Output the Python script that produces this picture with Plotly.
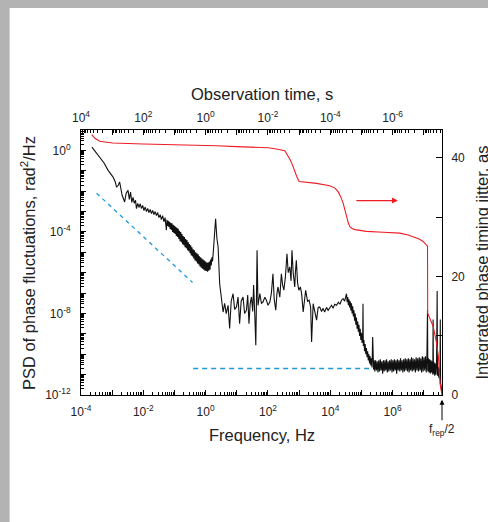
import plotly.graph_objects as go

# ---------------- data (log10 values) ----------------
# PSD of phase fluctuations, pairs of (log10 frequency/Hz, log10 PSD/(rad^2/Hz)), by segment
psd_low = [  # 10^-3.7 .. 10^-1.3 Hz
    (-3.65, 0.16), (-3.52, -0.10), (-3.40, -0.33), (-3.26, -0.62), (-3.13, -0.98), (-3.05, -1.15),
    (-2.97, -1.31), (-2.90, -1.55), (-2.86, -1.80), (-2.80, -1.70), (-2.76, -1.55), (-2.68, -2.20),
    (-2.60, -2.53), (-2.55, -2.10), (-2.49, -1.96), (-2.45, -2.40), (-2.41, -2.05), (-2.37, -2.55),
    (-2.33, -2.30), (-2.29, -2.60), (-2.25, -2.45), (-2.22, -2.86), (-2.18, -2.60), (-2.14, -2.80),
    (-2.10, -2.62), (-2.06, -2.85), (-2.02, -2.70), (-1.98, -2.95), (-1.94, -2.78), (-1.90, -3.00),
    (-1.86, -2.85), (-1.82, -3.05), (-1.78, -2.90), (-1.74, -3.10), (-1.70, -2.95), (-1.66, -3.15),
    (-1.62, -3.00), (-1.58, -3.20), (-1.54, -3.05), (-1.50, -3.30), (-1.46, -3.15), (-1.42, -3.40),
    (-1.38, -3.20), (-1.34, -3.50),
]
psd_band = [  # dense noisy band up to the 2 Hz peak
    (-1.30, -3.30), (-1.28, -3.62), (-1.26, -3.92), (-1.24, -3.40), (-1.22, -3.70), (-1.20, -3.45),
    (-1.18, -3.75), (-1.16, -3.50), (-1.14, -3.85), (-1.12, -3.55), (-1.10, -3.90), (-1.08, -3.58),
    (-1.06, -4.00), (-1.04, -3.65), (-1.02, -4.05), (-1.00, -3.70), (-0.98, -4.10), (-0.96, -3.75),
    (-0.94, -4.20), (-0.92, -3.80), (-0.90, -4.25), (-0.88, -3.85), (-0.86, -4.35), (-0.84, -3.95),
    (-0.82, -4.45), (-0.80, -4.00), (-0.78, -4.50), (-0.76, -4.10), (-0.74, -4.60), (-0.72, -4.20),
    (-0.70, -4.65), (-0.68, -4.25), (-0.66, -4.75), (-0.64, -4.35), (-0.62, -4.80), (-0.60, -4.40),
    (-0.58, -4.90), (-0.56, -4.50), (-0.54, -4.95), (-0.52, -4.60), (-0.50, -5.05), (-0.48, -4.65),
    (-0.46, -5.15), (-0.44, -4.75), (-0.42, -5.20), (-0.40, -4.85), (-0.38, -5.30), (-0.36, -4.90),
    (-0.34, -5.40), (-0.32, -5.00), (-0.30, -5.45), (-0.28, -5.05), (-0.26, -5.55), (-0.24, -5.10),
    (-0.22, -5.60), (-0.20, -5.20), (-0.18, -5.70), (-0.16, -5.25), (-0.14, -5.75), (-0.12, -5.30),
    (-0.10, -5.80), (-0.08, -5.35), (-0.06, -5.85), (-0.04, -5.40), (-0.02, -5.90), (0.00, -5.45),
    (0.02, -5.92), (0.04, -5.50), (0.06, -5.95), (0.08, -5.50), (0.10, -5.90), (0.12, -5.45),
    (0.14, -5.85), (0.16, -5.35), (0.18, -5.65), (0.20, -5.25), (0.22, -5.45), (0.24, -5.10),
    (0.28, -4.40), (0.32, -3.35), (0.36, -4.30), (0.40, -4.74),
]
psd_mid = [  # spiky mid-frequency region up to the 30 kHz bump
    (0.45, -6.54), (0.50, -7.30), (0.56, -7.93), (0.61, -7.50), (0.66, -8.01), (0.72, -7.60),
    (0.77, -8.74), (0.82, -7.40), (0.88, -7.03), (0.93, -7.80), (0.99, -7.68), (1.04, -7.20),
    (1.09, -8.50), (1.14, -7.40), (1.20, -7.19), (1.25, -8.00), (1.31, -7.84), (1.35, -7.10),
    (1.39, -8.50), (1.43, -7.50), (1.47, -7.19), (1.51, -7.90), (1.54, -6.60), (1.58, -8.20),
    (1.61, -9.56), (1.63, -7.40), (1.65, -4.90), (1.68, -7.60), (1.74, -7.03), (1.79, -7.50),
    (1.84, -7.44), (1.90, -7.20), (1.95, -7.35), (2.00, -7.60), (2.06, -7.44), (2.11, -7.00),
    (2.16, -6.05), (2.20, -7.30), (2.25, -7.84), (2.29, -7.00), (2.32, -6.70), (2.38, -7.20),
    (2.43, -6.05), (2.47, -6.60), (2.51, -6.86), (2.56, -6.20), (2.61, -5.07), (2.65, -6.00),
    (2.70, -5.72), (2.74, -6.40), (2.77, -4.90), (2.81, -6.00), (2.86, -6.70), (2.88, -6.00),
    (2.91, -5.39), (2.95, -6.50), (2.99, -6.86), (3.04, -6.70), (3.08, -7.03), (3.13, -7.93),
    (3.17, -7.20), (3.21, -6.86), (3.27, -7.40), (3.32, -7.35), (3.37, -7.70), (3.40, -9.40),
    (3.45, -7.52), (3.50, -7.90), (3.56, -8.33), (3.61, -7.70), (3.66, -7.68), (3.72, -7.90),
    (3.77, -7.75), (3.82, -7.93), (3.88, -7.70), (3.93, -7.85), (3.98, -7.76), (4.04, -7.60),
    (4.09, -7.75), (4.14, -7.55), (4.20, -7.60), (4.26, -7.45), (4.31, -7.55), (4.36, -7.35),
    (4.41, -7.27), (4.46, -7.40), (4.52, -7.03),
]
psd_roll = [  # roll-off after the 30 kHz bump
    (4.54, -7.45), (4.56, -7.20), (4.58, -7.60), (4.60, -7.30), (4.62, -7.70), (4.64, -7.40),
    (4.66, -7.85), (4.68, -7.50), (4.70, -8.00), (4.72, -7.65), (4.74, -8.15), (4.76, -7.85),
    (4.78, -8.35), (4.80, -8.00), (4.82, -8.55), (4.84, -8.20), (4.86, -8.75), (4.88, -8.40),
    (4.90, -8.90), (4.92, -8.55), (4.94, -9.10), (4.96, -8.75), (4.98, -9.30), (5.00, -8.95),
    (5.02, -9.45), (5.04, -9.15), (5.05, -7.52), (5.06, -9.60), (5.08, -9.30), (5.10, -9.85),
    (5.12, -9.50), (5.14, -10.00), (5.16, -9.70), (5.18, -10.15), (5.20, -9.85), (5.22, -10.30),
    (5.24, -10.00), (5.26, -10.45), (5.28, -10.10), (5.30, -10.55), (5.32, -10.20), (5.34, -10.65),
    (5.36, -9.15), (5.37, -10.30), (5.39, -10.75), (5.41, -10.30),
]
psd_floor = [  # white-noise floor up to f_rep/2
    (5.430, -10.85), (5.455, -10.30), (5.480, -10.80), (5.505, -10.35), (5.530, -10.90),
    (5.555, -10.30), (5.580, -10.85), (5.605, -10.25), (5.630, -10.80), (5.655, -10.35),
    (5.680, -10.95), (5.705, -10.30), (5.730, -10.85), (5.755, -10.30), (5.780, -10.80),
    (5.805, -10.25), (5.830, -10.90), (5.855, -10.35), (5.880, -10.85), (5.905, -10.30),
    (5.930, -10.80), (5.955, -10.25), (5.980, -10.90), (6.005, -10.30), (6.030, -10.85),
    (6.055, -10.25), (6.080, -10.80), (6.105, -10.30), (6.130, -10.95), (6.155, -10.25),
    (6.180, -10.80), (6.205, -10.30), (6.230, -10.85), (6.255, -10.20), (6.280, -10.80),
    (6.305, -10.30), (6.330, -10.90), (6.355, -10.25), (6.380, -10.85), (6.405, -10.20),
    (6.430, -10.80), (6.455, -10.25), (6.480, -10.85), (6.505, -10.20), (6.530, -10.90),
    (6.555, -10.25), (6.580, -10.80), (6.605, -10.15), (6.630, -10.85), (6.655, -10.20),
    (6.680, -10.80), (6.705, -10.25), (6.730, -10.90), (6.755, -10.15), (6.780, -10.80),
    (6.805, -10.20), (6.830, -10.85), (6.855, -10.15), (6.880, -10.80), (6.905, -10.20),
    (6.930, -10.90), (6.955, -10.10), (6.980, -10.85), (7.005, -10.15), (7.030, -10.80),
    (7.055, -10.10), (7.080, -10.90), (7.100, -10.20), (7.120, -7.84), (7.130, -10.85),
    (7.150, -10.20), (7.170, -10.90), (7.190, -10.25), (7.210, -10.95), (7.230, -10.30),
    (7.250, -10.90), (7.270, -10.35), (7.290, -11.00), (7.300, -8.30), (7.310, -10.95),
    (7.330, -10.40), (7.350, -11.05), (7.370, -10.45), (7.390, -11.00), (7.410, -10.50),
    (7.430, -6.90), (7.440, -11.05), (7.460, -10.60), (7.480, -11.15), (7.500, -10.70),
    (7.520, -11.20), (7.530, -8.30), (7.540, -11.40), (7.560, -11.60), (7.580, -11.93),
]

# Integrated phase timing jitter (right axis): log10(frequency / Hz), jitter in as
jit_logf = [
    -3.66, -3.55, -3.40, -3.20, -2.98, -2.00, -1.00, 0.00, 0.35, 1.00, 2.00, 2.27, 2.54, 2.60,
    2.65, 2.72, 2.78, 2.82, 2.87, 2.92, 3.00, 3.20, 3.56, 3.98, 4.15, 4.25, 4.33, 4.41, 4.47,
    4.52, 4.58, 4.63, 4.70, 4.79, 5.16, 5.70, 6.23, 6.50, 6.66, 6.85, 6.98, 7.12, 7.125, 7.30,
    7.41, 7.47, 7.52, 7.585,
]
jit_as = [
    43.9, 43.3, 42.8, 42.6, 42.5, 42.35, 42.25, 42.15, 42.05, 41.9, 41.7, 41.5, 41.2, 40.7,
    40.3, 39.6, 38.9, 38.3, 37.7, 36.9, 36.0, 35.9, 35.7, 35.3, 34.9, 34.3, 33.5, 32.4, 31.0,
    30.1, 29.0, 28.4, 28.1, 27.9, 27.6, 27.45, 27.3, 27.0, 26.7, 26.3, 25.9, 25.1, 13.8, 11.6,
    8.8, 6.5, 2.0, 0.0,
]

# Guide lines (dashed blue): log10 frequency, log10 PSD
guide1_logf = [-3.5, -0.42]
guide1_logv = [-2.1, -6.48]
guide2_logf = [-0.4, 7.4]
guide2_logv = [-10.7, -10.7]

# Axis ticks
bottom_tick_exp = [-4, -2, 0, 2, 4, 6]
top_tick_exp = [4, 2, 0, -2, -4, -6]
left_tick_exp = [0, -4, -8, -12]
right_ticks = [0, 10, 20, 30, 40]
right_ticklabels = ["0", "", "20", "", "40"]

F_LO, F_HI = -4, 7.585   # log10 Hz range
Y_LO, Y_HI = -12, 1      # log10 PSD range
J_HI = 44.7

FONT = "Liberation Sans, Arial, Helvetica, sans-serif"
TXT = "#222222"

pts = psd_low + psd_band + psd_mid + psd_roll + psd_floor
psd_f = [10 ** a for a, _ in pts]
psd_v = [10 ** b for _, b in pts]


def pw(vals):
    return [10 ** v for v in vals]


def sup(e):
    return f"10<sup>{e}</sup>"


fig = go.Figure()

fig.add_trace(go.Scatter(x=pw(guide1_logf), y=pw(guide1_logv), mode="lines",
                         line=dict(color="#1f9ad8", width=1.3, dash="4px,4px"),
                         showlegend=False, hoverinfo="skip"))
fig.add_trace(go.Scatter(x=pw(guide2_logf), y=pw(guide2_logv), mode="lines",
                         line=dict(color="#1f9ad8", width=1.3, dash="5px,4px"),
                         showlegend=False, hoverinfo="skip"))
fig.add_trace(go.Scatter(x=psd_f, y=psd_v, mode="lines",
                         line=dict(color="#111111", width=1.1),
                         showlegend=False))
fig.add_trace(go.Scatter(x=pw(jit_logf), y=jit_as, mode="lines", yaxis="y2",
                         line=dict(color="#ee1c25", width=1.1),
                         showlegend=False))
# invisible trace to hold the top (observation time) axis
fig.add_trace(go.Scatter(x=[1.0], y=[1e-30], xaxis="x2", mode="markers",
                         marker=dict(opacity=0), showlegend=False, hoverinfo="skip"))


def decade_vals(lo, hi):
    return [10.0 ** k for k in range(lo, hi + 1)]


def minor_vals(lo, hi):
    out = []
    for k in range(lo, hi + 1):
        for m in range(2, 10):
            out.append(m * 10.0 ** k)
    return out


xd = decade_vals(-4, 7)
xt = [sup(k) if k in bottom_tick_exp else "" for k in range(-4, 8)]
td = decade_vals(-8, 4)
tt = [sup(k) if k in top_tick_exp else "" for k in range(-8, 5)]
yd = decade_vals(-12, 1)
yt = [sup(k) if k in left_tick_exp else "" for k in range(-12, 2)]

common = dict(showline=True, linecolor="black", linewidth=1, showgrid=False, zeroline=False,
              tickfont=dict(family=FONT, size=12, color=TXT), tickcolor="black")

fig.update_layout(
    width=488, height=522,
    margin=dict(l=81, r=46, t=130, b=127),
    paper_bgcolor="#b3b3b3", plot_bgcolor="white",
    font=dict(family=FONT, color=TXT),
    xaxis=dict(type="log", range=[F_LO, F_HI], tickvals=xd, ticktext=xt, ticks="inside",
               ticklen=5, tickwidth=1, ticklabelstandoff=6,
               minor=dict(ticks="inside", ticklen=3, tickvals=minor_vals(-4, 7), tickcolor="black"),
               **common),
    xaxis2=dict(type="log", range=[4, -F_HI], overlaying="x", side="top", anchor="y",
                tickvals=td, ticktext=tt, ticks="inside", ticklen=5, ticklabelstandoff=2,
                minor=dict(ticks="inside", ticklen=3, tickvals=minor_vals(-8, 3), tickcolor="black"),
                **common),
    yaxis=dict(type="log", range=[Y_LO, Y_HI], tickvals=yd, ticktext=yt, ticks="inside",
               ticklen=5, ticklabelstandoff=7,
               minor=dict(ticks="inside", ticklen=3, tickvals=minor_vals(-12, 0), tickcolor="black"),
               **common),
    yaxis2=dict(range=[0, J_HI], overlaying="y", side="right", anchor="x",
                tickvals=right_ticks, ticktext=right_ticklabels, ticks="inside", ticklen=6,
                ticklabelstandoff=6, **common),
)

# white panel over grey frame (grey only on left and top)
fig.add_shape(type="rect", xref="paper", yref="paper", x0=-0.1977, x1=1.2, y0=-0.6, y1=1.4605,
              fillcolor="white", line=dict(width=0), layer="below")

ann_font = dict(family=FONT, size=16.5, color=TXT)
fig.add_annotation(xref="paper", yref="paper", x=0.501, y=-0.1496, text="Frequency, Hz",
                   showarrow=False, font=ann_font, xanchor="center", yanchor="middle")
fig.add_annotation(xref="paper", yref="paper", x=0.501, y=1.1346, text="Observation time, s",
                   showarrow=False, font=ann_font, xanchor="center", yanchor="middle")
fig.add_annotation(xref="paper", yref="paper", x=-0.1486, y=0.499,
                   text="PSD of phase fluctuations, rad<sup>2</sup>/Hz", textangle=-90,
                   showarrow=False, font=ann_font, xanchor="center", yanchor="middle")
fig.add_annotation(xref="paper", yref="paper", x=1.110, y=0.499,
                   text="Integrated phase timing jitter, as", textangle=-90,
                   showarrow=False, font=ann_font, xanchor="center", yanchor="middle")
# f_rep/2 marker
fig.add_annotation(xref="x", yref="paper", x=F_HI, y=-0.018, text="f<sub>rep</sub>/2",
                   showarrow=True, arrowhead=2, arrowsize=1, arrowwidth=1, arrowcolor="black",
                   ax=0, ay=30, font=dict(family=FONT, size=12, color=TXT))
# red arrow pointing to right axis
fig.add_annotation(xref="x", yref="y2", x=6.17, y=32.8, text="", showarrow=True,
                   arrowhead=2, arrowsize=1, arrowwidth=1.2, arrowcolor="#ee1c25",
                   ax=-43, ay=0)

fig.write_html("out.html")
